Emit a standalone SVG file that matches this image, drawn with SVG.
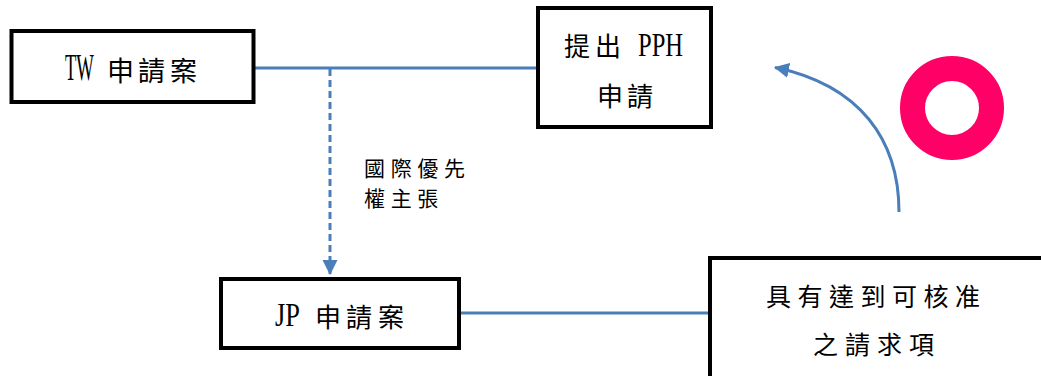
<svg xmlns="http://www.w3.org/2000/svg" width="1041" height="376" viewBox="0 0 1041 376">
<style>
.box{fill:#fff;stroke:#000;stroke-width:4}
.cjk{font-family:"Noto Sans CJK TC","Noto Sans CJK SC",sans-serif;fill:#000}
.lat{font-family:"Liberation Serif",serif;fill:#000}
.conn{fill:none;stroke:#4a7ebb;stroke-width:3}
</style>
<defs>
<marker id="arr" markerUnits="userSpaceOnUse" markerWidth="16" markerHeight="16" refX="14" refY="7.5" orient="auto">
<path d="M0,0 L15,7.5 L0,15 Z" fill="#4a7ebb"/>
</marker>
</defs>
<g id="connectors">
<line class="conn" x1="255" y1="68" x2="537" y2="68"/>
<line class="conn" x1="330" y1="69" x2="330" y2="274" stroke-dasharray="7 4" marker-end="url(#arr)"/>
<line class="conn" x1="461" y1="313" x2="709" y2="313"/>
<path class="conn" d="M899,212 C899,140 860,85 775,67.5" marker-end="url(#arr)"/>
</g>
<g id="label-priority">
<text class="cjk" font-size="21" y="176" x="364 390.7 417.3 444">國際優先</text>
<text class="cjk" font-size="21" y="206" x="364 390.7 417.3">權主張</text>
</g>
<g id="node-tw">
<rect class="box" x="11.5" y="31" width="242" height="71"/>
<text class="lat" font-size="30" transform="translate(65,80) scale(0.62,1.25)">TW</text>
<text class="cjk" font-size="27" y="81" x="107 138 170">申請案</text>
</g>
<g id="node-pph">
<rect class="box" x="538" y="8" width="173" height="119"/>
<text class="cjk" font-size="26" y="56" x="564 595">提出</text>
<text class="lat" font-size="30" transform="translate(638,56) scale(0.82,1.12)">PPH</text>
<text class="cjk" font-size="26" y="106" x="597 627">申請</text>
</g>
<g id="node-jp">
<rect class="box" x="221" y="279" width="238" height="69"/>
<text class="lat" font-size="30" transform="translate(275,326) scale(0.88,1.15)">JP</text>
<text class="cjk" font-size="26" y="327" x="315 346 378">申請案</text>
</g>
<g id="node-claims">
<rect class="box" x="710" y="258" width="340" height="130"/>
<text class="cjk" font-size="25" y="306" x="766 797.5 829 860.5 892 923.5 955">具有達到可核准</text>
<text class="cjk" font-size="25" y="354" x="813 845 877 909">之請求項</text>
</g>
<g id="ring">
<circle cx="952" cy="108" r="39.5" fill="none" stroke="#ff0066" stroke-width="25"/>
</g>
</svg>
